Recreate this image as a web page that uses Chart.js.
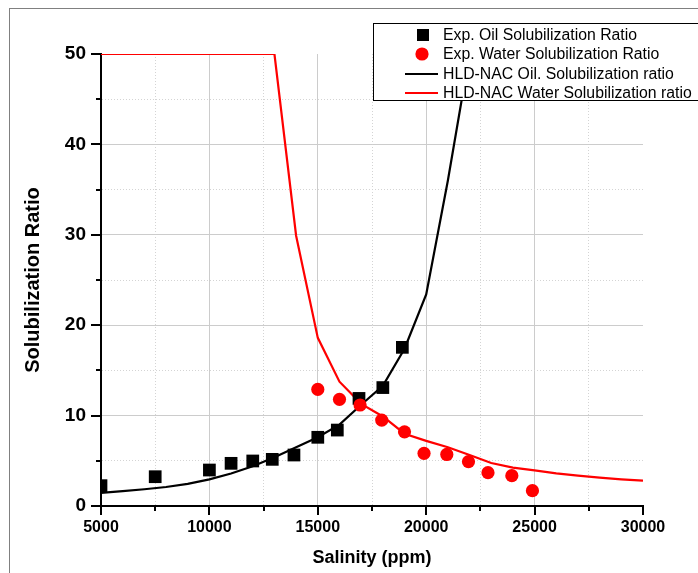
<!DOCTYPE html>
<html lang="en">
<head>
<meta charset="UTF-8">
<title>Solubilization Ratio vs Salinity</title>
<style>
    body { margin: 0; background: #fff; }
    canvas { display: block; }
</style>
<script src="https://cdn.jsdelivr.net/npm/chart.js"></script>
</head>
<body>
<canvas id="myChart" width="698" height="573"></canvas>
<script>
    // Experimental points
    const oilSalinity = [5000, 7500, 10000, 11000, 12000, 12900, 13900, 15000, 15900, 16900, 18000, 18900];
    const oilRatio = [2.25, 3.24, 3.98, 4.72, 4.98, 5.16, 5.64, 7.6, 8.4, 11.9, 13.1, 17.55];

    const waterSalinity = [15000, 16000, 16950, 17950, 19000, 19900, 20950, 21950, 22850, 23950, 24900];
    const waterRatio = [12.9, 11.8, 11.17, 9.5, 8.2, 5.83, 5.7, 4.9, 3.69, 3.36, 1.7];

    // HLD-NAC model curves
    const modelOilSalinity = [5000, 6000, 7000, 8000, 9000, 10000, 11000, 12000, 13000, 14000, 15000, 16000, 17000, 18000, 19000, 20000, 21000, 22000];
    const modelOilRatio = [1.45, 1.65, 1.85, 2.1, 2.45, 2.95, 3.6, 4.4, 5.4, 6.5, 7.6, 9.0, 11.2, 13.3, 17.4, 23.4, 36, 50];

    const modelWaterSalinity = [5000, 6000, 7000, 8000, 9000, 10000, 11000, 12000, 13000, 14000, 15000, 16000, 17000, 18000, 19000, 20000, 21000, 22000, 23000, 24000, 25000, 26000, 27000, 28000, 29000, 30000];
    const modelWaterRatio = [50, 50, 50, 50, 50, 50, 50, 50, 50, 29.9, 18.6, 13.75, 11.3, 9.9, 8.0, 7.2, 6.5, 5.65, 4.75, 4.25, 3.95, 3.6, 3.35, 3.13, 2.95, 2.8];

    const xTicks = { min: 5000, max: 30000, step: 2500, major: 5000 };
    const yTicks = { min: 0, max: 50, step: 5, major: 10 };

    const FONT = "'Liberation Sans', Arial, sans-serif";

    function toPoints(xs, ys) {
        return xs.map((x, i) => ({ x: x, y: ys[i] }));
    }

    const isMajorX = v => v % xTicks.major === 0;
    const isMajorY = v => v % yTicks.major === 0;

    function gridColor(ctx, t) {
        if (!ctx.tick) return 'rgba(0,0,0,0)';
        const v = ctx.tick.value;
        if (v === t.min || v === t.max) return 'rgba(0,0,0,0)';
        return v % t.major === 0 ? '#cccccc' : '#d4d4d4';
    }

    function gridDash(ctx, t) {
        if (!ctx.tick) return [];
        return ctx.tick.value % t.major === 0 ? [] : [1, 2];
    }

    // grey frame around the figure
    const framePlugin = {
        id: 'frame',
        beforeDraw(chart) {
            const c = chart.ctx;
            c.save();
            c.strokeStyle = '#808080';
            c.lineWidth = 1;
            c.strokeRect(9.5, 8.5, 1000, 1000);
            c.restore();
        }
    };

    // outward tick marks, longer on the labelled ticks
    const tickPlugin = {
        id: 'tickMarks',
        afterDraw(chart) {
            const c = chart.ctx;
            const xs = chart.scales.x, ys = chart.scales.y;
            c.save();
            c.strokeStyle = '#000';
            c.lineWidth = 2;
            c.beginPath();
            xs.ticks.forEach(t => {
                const px = Math.round(xs.getPixelForValue(t.value));
                const len = isMajorX(t.value) ? 9 : 5;
                c.moveTo(px, ys.bottom);
                c.lineTo(px, ys.bottom + len);
            });
            ys.ticks.forEach(t => {
                const py = Math.round(ys.getPixelForValue(t.value));
                const len = isMajorY(t.value) ? 10 : 5;
                c.moveTo(xs.left, py);
                c.lineTo(xs.left - len, py);
            });
            c.stroke();
            c.restore();
        }
    };

    // boxed legend in the top right corner
    const legendPlugin = {
        id: 'boxLegend',
        afterDraw(chart) {
            const c = chart.ctx;
            const rows = [35, 54, 74, 93];
            c.save();
            c.fillStyle = '#fff';
            c.fillRect(373, 23, 400, 77);
            c.strokeStyle = '#000';
            c.lineWidth = 1;
            c.strokeRect(373.5, 23.5, 400, 77);
            c.font = '15.8px ' + FONT;
            c.textBaseline = 'middle';
            chart.data.datasets.forEach((ds, i) => {
                const y = rows[i];
                if (ds.showLine) {
                    c.strokeStyle = ds.borderColor;
                    c.lineWidth = 2;
                    c.beginPath();
                    c.moveTo(405, y);
                    c.lineTo(438, y);
                    c.stroke();
                } else if (ds.pointStyle === 'rect') {
                    c.fillStyle = ds.pointBackgroundColor;
                    c.fillRect(417, y - 6, 12, 12);
                } else {
                    c.fillStyle = ds.pointBackgroundColor;
                    c.beginPath();
                    c.arc(422, y, 6.6, 0, Math.PI * 2);
                    c.fill();
                }
                c.fillStyle = '#000';
                c.fillText(ds.label, 443, y + 0.5);
            });
            c.restore();
        }
    };

    const ctx = document.getElementById('myChart').getContext('2d');
    const chart = new Chart(ctx, {
        type: 'scatter',
        data: {
            datasets: [{
                label: 'Exp. Oil Solubilization Ratio',
                data: toPoints(oilSalinity, oilRatio),
                pointStyle: 'rect',
                pointRadius: 9,
                pointBackgroundColor: '#000',
                pointBorderWidth: 0,
                order: 1
            }, {
                label: 'Exp. Water Solubilization Ratio',
                data: toPoints(waterSalinity, waterRatio),
                pointStyle: 'circle',
                pointRadius: 6.6,
                pointBackgroundColor: '#ff0000',
                pointBorderWidth: 0,
                order: 0
            }, {
                label: 'HLD-NAC Oil. Solubilization ratio',
                data: toPoints(modelOilSalinity, modelOilRatio),
                showLine: true,
                borderColor: '#000',
                borderWidth: 2.2,
                pointRadius: 0,
                tension: 0,
                order: 2
            }, {
                label: 'HLD-NAC Water Solubilization ratio',
                data: toPoints(modelWaterSalinity, modelWaterRatio),
                showLine: true,
                borderColor: '#ff0000',
                borderWidth: 2.2,
                pointRadius: 0,
                tension: 0,
                order: 3
            }]
        },
        options: {
            responsive: false,
            animation: false,
            devicePixelRatio: 1,
            events: [],
            layout: { padding: { left: 0, top: 54, right: 55, bottom: 0 } },
            plugins: {
                legend: { display: false },
                tooltip: { enabled: false }
            },
            scales: {
                x: {
                    type: 'linear',
                    min: xTicks.min,
                    max: xTicks.max,
                    afterFit(scale) { scale.height = 67; },
                    ticks: {
                        stepSize: xTicks.step,
                        autoSkip: false,
                        maxRotation: 0,
                        padding: 12,
                        color: '#000',
                        font: { family: FONT, size: 16, weight: 'bold' },
                        callback: v => isMajorX(v) ? String(v) : ''
                    },
                    grid: {
                        drawTicks: false,
                        lineWidth: 1,
                        color: c => gridColor(c, xTicks)
                    },
                    border: {
                        color: '#000',
                        width: 2,
                        dash: c => gridDash(c, xTicks)
                    },
                    title: {
                        display: true,
                        text: 'Salinity (ppm)',
                        color: '#000',
                        font: { family: FONT, size: 18, weight: 'bold' },
                        padding: { top: 0, bottom: 4 }
                    }
                },
                y: {
                    min: yTicks.min,
                    max: yTicks.max,
                    afterFit(scale) { scale.width = 101; },
                    ticks: {
                        stepSize: yTicks.step,
                        autoSkip: false,
                        padding: 15,
                        color: '#000',
                        font: { family: FONT, size: 19, weight: 'bold' },
                        callback: v => isMajorY(v) ? String(v) : ''
                    },
                    grid: {
                        drawTicks: false,
                        lineWidth: 1,
                        color: c => gridColor(c, yTicks)
                    },
                    border: {
                        color: '#000',
                        width: 2,
                        dash: c => gridDash(c, yTicks)
                    },
                    title: {
                        display: true,
                        text: 'Solubilization Ratio',
                        color: '#000',
                        font: { family: FONT, size: 20, weight: 'bold' },
                        padding: { top: 21, bottom: 0 }
                    }
                }
            }
        },
        plugins: [framePlugin, tickPlugin, legendPlugin]
    });
</script>
</body>
</html>
